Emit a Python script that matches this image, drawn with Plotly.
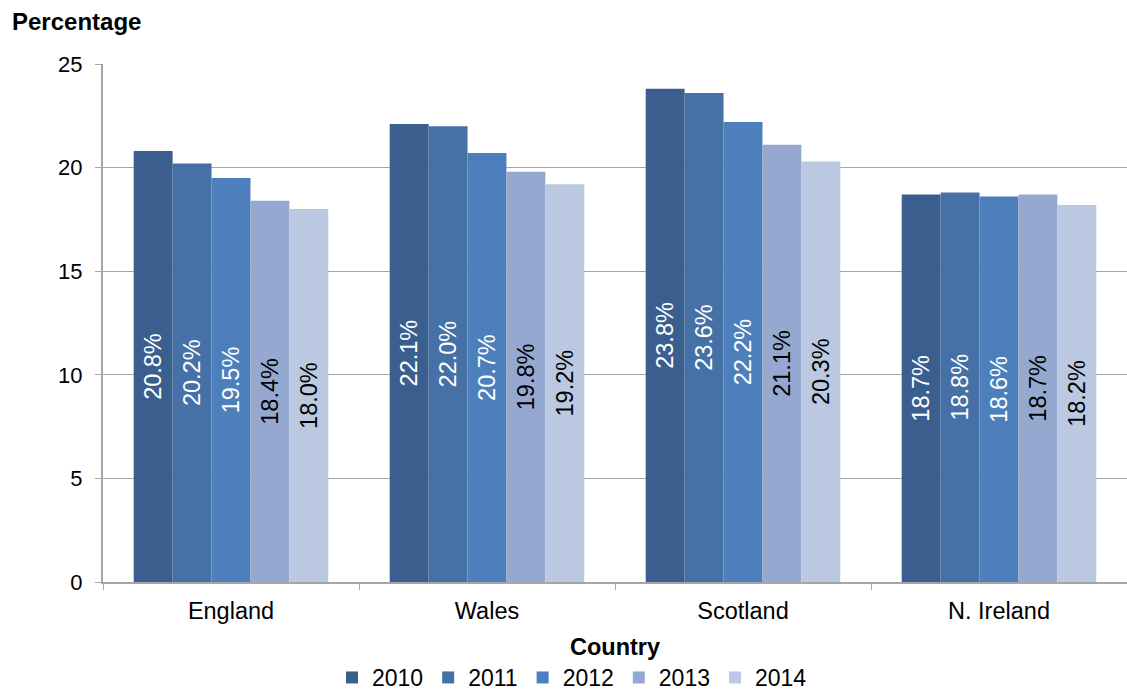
import plotly.graph_objects as go

countries = ["England", "Wales", "Scotland", "N. Ireland"]
years = ["2010", "2011", "2012", "2013", "2014"]
v2010 = [20.8, 22.1, 23.8, 18.7]
v2011 = [20.2, 22.0, 23.6, 18.8]
v2012 = [19.5, 20.7, 22.2, 18.6]
v2013 = [18.4, 19.8, 21.1, 18.7]
v2014 = [18.0, 19.2, 20.3, 18.2]
series = [v2010, v2011, v2012, v2013, v2014]

colors = ["#3A5F8E", "#4571A6", "#4C7FBC", "#95A9D0", "#BAC8E1"]
text_colors = ["white", "white", "white", "black", "black"]

FONT = "Liberation Sans, Arial, sans-serif"

fig = go.Figure()
for yr, vals, c, tc in zip(years, series, colors, text_colors):
    fig.add_trace(go.Bar(
        x=countries, y=vals, name=yr,
        marker=dict(color=c, line=dict(width=0)),
        texttemplate="%{y:.1f}%",
        textposition="inside",
        insidetextanchor="middle",
        textangle=-90,
        constraintext="none",
        textfont=dict(color=tc, size=23.5, family=FONT),
        hoverinfo="skip",
    ))

fig.update_layout(
    width=1127, height=700,
    barmode="group", bargap=0.24, bargroupgap=0,
    plot_bgcolor="white", paper_bgcolor="white",
    font=dict(family=FONT, size=23, color="black"),
    margin=dict(l=103, r=0, t=64, b=118, autoexpand=False),
    showlegend=True,
    legend=dict(orientation="h", x=(572 - 103) / 1024, xanchor="center",
                y=-(699 - 582) / 518, yanchor="bottom",
                font=dict(size=23), itemwidth=30, traceorder="normal",
                tracegroupgap=0, borderwidth=0, bgcolor="rgba(0,0,0,0)"),
)
fig.add_annotation(text="<b>Percentage</b>", xref="paper", yref="paper",
                   x=-93/1024, y=1 + 42/518, xanchor="left", yanchor="middle",
                   showarrow=False, font=dict(size=24))

fig.update_yaxes(range=[0, 25], dtick=5, showgrid=True, gridcolor="#A6A6A6", gridwidth=1,
                 showline=True, linecolor="#A6A6A6", linewidth=2,
                 ticks="outside", ticklen=6, tickcolor="#A6A6A6", tickwidth=1,
                 zeroline=False, tickfont=dict(size=22), ticklabelstandoff=8,
                 automargin=False)
fig.update_xaxes(showline=True, linecolor="#A6A6A6", linewidth=2,
                 ticks="outside", tickson="boundaries", ticklen=6, tickcolor="#A6A6A6",
                 tickfont=dict(size=23.5), automargin=False, ticklabelstandoff=7,
                 title=dict(text="<b>Country</b>", font=dict(size=23.5), standoff=15))

fig.write_html("out.html", config={"displayModeBar": False},
               post_script="document.body.style.margin='0';")
